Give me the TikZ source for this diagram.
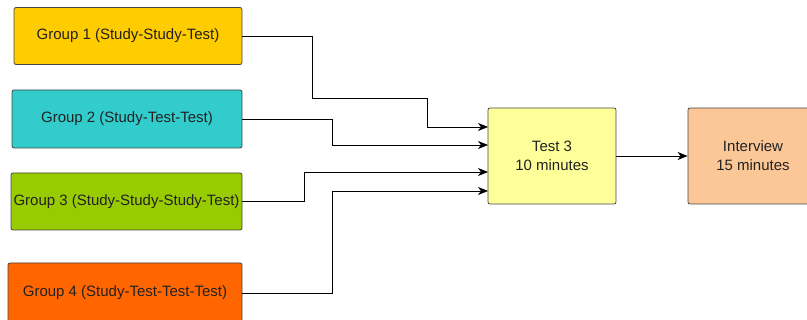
\documentclass[tikz,border=0pt]{standalone}
\usepackage{fontspec}
\setmainfont{Liberation Sans}
\usetikzlibrary{arrows.meta,positioning}
\definecolor{grpone}{HTML}{FFCC00}
\definecolor{grptwo}{HTML}{33CCCC}
\definecolor{grpthree}{HTML}{99CC00}
\definecolor{grpfour}{HTML}{FF6600}
\definecolor{testfill}{HTML}{FFFF99}
\definecolor{interfill}{HTML}{FCC797}
\definecolor{labeltext}{HTML}{222222}
\tikzset{
groupbox/.style={
  rectangle,
  rounded corners=2pt,
  line width=0.8pt,
  draw={rgb,255:red,70;green,70;blue,70},
  inner sep=0pt,
  align=center,
  text=labeltext,
  font=\fontsize{15}{19}\selectfont,
  }
}
\tikzset{
flowline/.style={
  line width=0.8pt,
  -{Stealth[length=10pt,width=8pt,inset=3pt]}
  }
}

\begin{document}
\begin{tikzpicture}[x=1pt,y=-1pt]
    \useasboundingbox (0,0) rectangle (807,320);

    % group part
    \node[groupbox, fill=grpone, minimum width=228pt, minimum height=57pt] (grp1) at (128,36) {Group 1 (Study-Study-Test)};
    \node[groupbox, fill=grptwo, minimum width=230pt, minimum height=58pt] (grp2) at (127,119) {Group 2 (Study-Test-Test)};
    \node[groupbox, fill=grpthree, minimum width=231pt, minimum height=57pt] (grp3) at (126.5,201.5) {Group 3 (Study-Study-Study-Test)};
    \node[groupbox, fill=grpfour, minimum width=234pt, minimum height=60pt] (grp4) at (125,293) {Group 4 (Study-Test-Test-Test)};

    % test part
    \node[groupbox, fill=testfill, minimum width=128pt, minimum height=96pt] (test3) at (552,156) {Test 3\\10 minutes};
    \node[groupbox, fill=interfill, minimum width=130pt, minimum height=96pt] (interview) at (753,156) {Interview\\15 minutes};

    % entry points
    \coordinate (in1) at (488,127);
    \coordinate (in2) at (488,145);
    \coordinate (in3) at (488,172);
    \coordinate (in4) at (488,191);

    % group edges
    \draw[flowline] (grp1.east) -| (312,98) -| (427,127) -- (in1);
    \draw[flowline] (grp2.east) -| (332,145) -- (in2);
    \draw[flowline] (grp3.east) -| (304,172) -- (in3);
    \draw[flowline] (grp4.east) -| (332,191) -- (in4);

    % test edge
    \draw[flowline] (test3) -- (interview);
\end{tikzpicture}
\end{document}
